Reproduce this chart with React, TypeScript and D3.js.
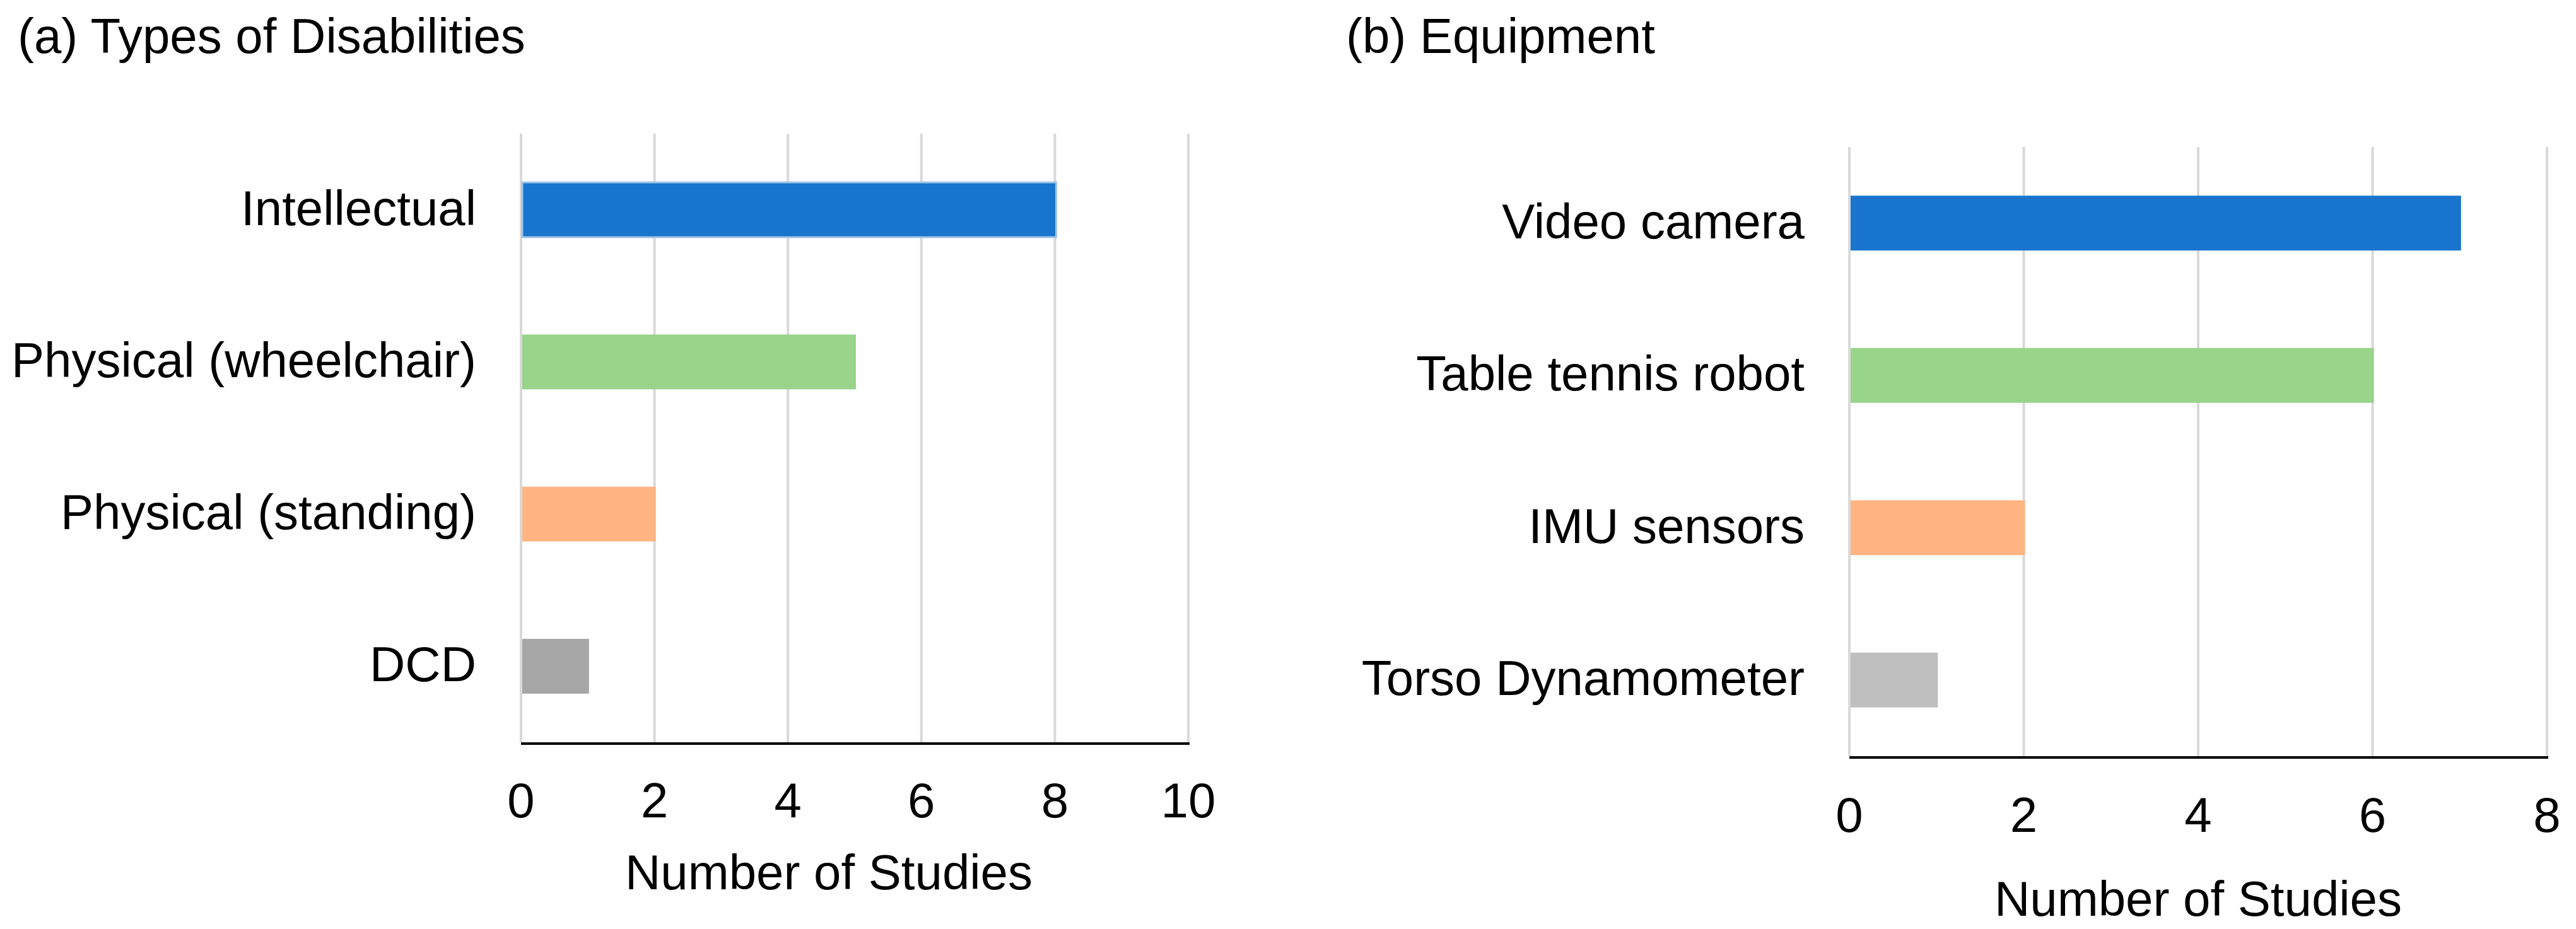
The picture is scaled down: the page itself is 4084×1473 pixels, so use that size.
import React from 'react'
import * as d3 from 'd3'

// panel (a)
const disabilityTypes = ['Intellectual', 'Physical (wheelchair)', 'Physical (standing)', 'DCD']
const disabilityCounts = [8, 5, 2, 1]
const disabilityTicks = [0, 2, 4, 6, 8, 10]

// panel (b)
const equipmentTypes = ['Video camera', 'Table tennis robot', 'IMU sensors', 'Torso Dynamometer']
const equipmentCounts = [7, 6, 2, 1]
const equipmentTicks = [0, 2, 4, 6, 8]

const FONT = '"Liberation Sans", Arial, sans-serif'

type PanelProps = {
  title: string
  titleX: number
  categories: string[]
  values: number[]
  ticks: number[]
  colors: string[]
  strokes: (string | null)[]
  x0: number
  x1: number
  y0: number
  y1: number
  axisTitleX: number
  axisTitleY: number
  tickY: number
}

const Panel = ({
  title, titleX, categories, values, ticks, colors, strokes,
  x0, x1, y0, y1, axisTitleX, axisTitleY, tickY,
}: PanelProps) => {
  const xScale = d3.scaleLinear().domain([0, d3.max(ticks) as number]).range([x0, x1])
  const yScale = d3
    .scaleBand()
    .domain(categories)
    .range([y0, y1])
    .paddingInner(0.64)
    .paddingOuter(0.32)
  const bw = yScale.bandwidth()

  return (
    <g fontFamily={FONT}>
      <text x={titleX} y={84} fontSize={78} fill="#000">{title}</text>

      {/* gridlines */}
      {ticks.map((t) => (
        <line key={'g' + t} x1={xScale(t)} x2={xScale(t)} y1={y0} y2={y1}
          stroke="#d9d9d9" strokeWidth={4} />
      ))}

      {/* bars */}
      {categories.map((c, i) => (
        <rect key={c}
          x={xScale(0) + 2}
          y={yScale(c)}
          width={xScale(values[i]) - xScale(0)}
          height={bw}
          fill={colors[i]}
          stroke={strokes[i] ?? 'none'}
          strokeWidth={strokes[i] ? 3 : 0} />
      ))}

      {/* axis line */}
      <line x1={x0} x2={x1 + 2} y1={y1 + 2} y2={y1 + 2} stroke="#000" strokeWidth={4} />

      {/* category labels */}
      {categories.map((c) => (
        <text key={'l' + c} x={x0 - 71} y={(yScale(c) as number) + bw / 2 + 24}
          fontSize={78} textAnchor="end" fill="#000">{c}</text>
      ))}

      {/* tick labels */}
      {ticks.map((t) => (
        <text key={'t' + t} x={xScale(t)} y={tickY} fontSize={78}
          textAnchor="middle" fill="#000">{t}</text>
      ))}

      <text x={axisTitleX} y={axisTitleY} fontSize={78} textAnchor="middle" fill="#000">
        Number of Studies
      </text>
    </g>
  )
}

const App = () => {
  return (
    <div style={{ position: 'absolute', left: 0, top: 0 }}>
      <svg width={4084} height={1473} style={{ display: 'block', background: '#fff' }}>
        <rect width={4084} height={1473} fill="#fff" />
        <Panel
          title="(a) Types of Disabilities"
          titleX={28}
          categories={disabilityTypes}
          values={disabilityCounts}
          ticks={disabilityTicks}
          colors={['#1874cd', '#98d48a', '#ffb482', '#a6a6a6']}
          strokes={['#9dc3e6', null, null, null]}
          x0={826}
          x1={1884}
          y0={212}
          y1={1177}
          axisTitleX={1314}
          axisTitleY={1410}
          tickY={1296}
        />
        <Panel
          title="(b) Equipment"
          titleX={2134}
          categories={equipmentTypes}
          values={equipmentCounts}
          ticks={equipmentTicks}
          colors={['#1874cd', '#98d48a', '#ffb482', '#bfbfbf']}
          strokes={[null, null, null, null]}
          x0={2932}
          x1={4038}
          y0={233}
          y1={1199}
          axisTitleX={3485}
          axisTitleY={1452}
          tickY={1319}
        />
      </svg>
    </div>
  )
}

export default App
